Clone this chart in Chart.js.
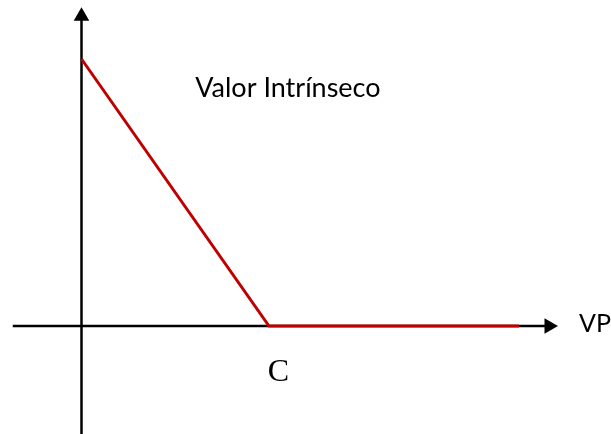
<!DOCTYPE html>
<html>
<head>
<meta charset="utf-8">
<script src="https://cdn.jsdelivr.net/npm/chart.js@4"></script>
<style>
  html, body { margin: 0; padding: 0; background: #fff; }
</style>
</head>
<body>
<canvas id="payoffChart" width="611" height="434"></canvas>
<script>
// payoff: intrinsic value vs VP, strike C
const vpValues = [0, 3, 7];
const intrinsicValues = [3, 0, 0];
const xAxisEnds = [-1.1, 7.48];
const yAxisEnds = [-1.4, 3.48];
const labelTexts = ['Valor Intrínseco', 'C', 'VP'];

const red = '#c00000';

const textLabels = {
  id: 'textLabels',
  afterDatasetsDraw(chart) {
    const { ctx, scales: { x, y } } = chart;
    ctx.save();
    ctx.fillStyle = '#000';
    ctx.textBaseline = 'alphabetic';
    ctx.textAlign = 'left';

    ctx.font = '27px Lato';
    ctx.fillText(labelTexts[0], x.getPixelForValue(1.82), y.getPixelForValue(2.575));
    ctx.font = '25px Lato';
    ctx.fillText(labelTexts[2], x.getPixelForValue(7.96), y.getPixelForValue(-0.07));

    ctx.font = '32px "Liberation Serif"';
    ctx.textAlign = 'center';
    ctx.fillText(labelTexts[1], x.getPixelForValue(3.15), y.getPixelForValue(-0.618));
    ctx.restore();
  }
};

new Chart(document.getElementById('payoffChart').getContext('2d'), {
  type: 'scatter',
  data: {
    datasets: [
      {
        label: 'Valor Intrínseco',
        data: vpValues.map((v, i) => ({ x: v, y: intrinsicValues[i] })),
        showLine: true,
        borderColor: red,
        borderWidth: 3,
        pointRadius: 0,
        borderCapStyle: 'butt',
        order: 0
      },
      {
        label: 'eje x',
        data: xAxisEnds.map(v => ({ x: v, y: 0 })),
        showLine: true,
        borderColor: '#000',
        borderWidth: 2.5,
        pointRadius: [0, 9],
        pointStyle: 'triangle',
        rotation: 90,
        backgroundColor: '#000',
        pointBorderWidth: 0,
        order: 1
      },
      {
        label: 'eje y',
        data: yAxisEnds.map(v => ({ x: 0, y: v })),
        showLine: true,
        borderColor: '#000',
        borderWidth: 2.5,
        pointRadius: [0, 9],
        pointStyle: 'triangle',
        rotation: 0,
        backgroundColor: '#000',
        pointBorderWidth: 0,
        order: 1
      }
    ]
  },
  options: {
    responsive: false,
    animation: false,
    layout: { padding: 0, autoPadding: false },
    plugins: {
      legend: { display: false },
      tooltip: { enabled: false }
    },
    scales: {
      x: { type: 'linear', display: false, min: -1.304, max: 8.472 },
      y: { type: 'linear', display: false, min: -1.2135, max: 3.663 }
    }
  },
  plugins: [textLabels]
});
</script>
</body>
</html>
